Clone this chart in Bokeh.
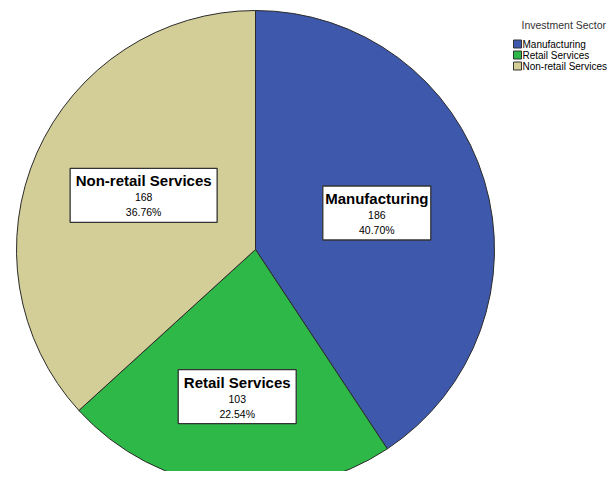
import numpy as np
from bokeh.plotting import figure
from bokeh.models import Range1d, ColumnDataSource
from bokeh.core.properties import value
from bokeh.embed import file_html
from bokeh.resources import INLINE

# ---- data ----
categories = ["Manufacturing", "Retail Services", "Non-retail Services"]
counts = [186, 103, 168]
legend_title = "Investment Sector"

# ---- style ----
colors = ["#3E58AC", "#2EB848", "#D3CE97"]
label_dist = [0.53, 0.62, 0.52]    # label distance as fraction of radius
label_turn = [0.0, 0.0, -0.035]    # small angular tweak (radians)
box_w = [108, 118, 147]
box_h = 54
FONT = "Liberation Sans"

W, H = 607, 471
TOP = 479  # data y of the top edge (data y = TOP - screen y)
p = figure(width=W, height=H, output_backend="svg", toolbar_location=None,
           x_range=Range1d(0, W), y_range=Range1d(TOP - H, TOP), min_border=0)
p.axis.visible = False
p.grid.visible = False
p.outline_line_color = None
p.background_fill_color = "white"
p.border_fill_color = "white"

cx, cy, r = 255, TOP - 249, 239

total = sum(counts)
frac = np.array(counts) / total
cum = np.concatenate([[0], np.cumsum(frac)])
start = np.pi / 2 - cum[:-1] * 2 * np.pi
end = np.pi / 2 - cum[1:] * 2 * np.pi
mid = (start + end) / 2 + np.array(label_turn)

src = ColumnDataSource(dict(start=start, end=end, color=colors, cat=categories))
p.wedge(x=cx, y=cy, radius=r, start_angle="start", end_angle="end",
        direction="clock", fill_color="color", line_color="#2a2a2a",
        line_width=1, source=src)

# labels
lx = cx + np.array(label_dist) * r * np.cos(mid)
ly = cy + np.array(label_dist) * r * np.sin(mid)
pcts = ["%.2f%%" % (f * 100) for f in frac]
lab = ColumnDataSource(dict(x=lx, y=ly, w=box_w, cat=categories,
                            cnt=[str(c) for c in counts], pct=pcts,
                            yt=ly + 14.5, yc=ly - 2, yp=ly - 17))
p.rect(x="x", y="y", width="w", height=box_h, fill_color="white",
       line_color="#333333", line_width=1.3, source=lab)
p.text(x="x", y="yt", text="cat", text_align="center", text_baseline="middle",
       text_font=value(FONT), text_font_style="bold", text_font_size="15px",
       text_color="black", source=lab)
p.text(x="x", y="yc", text="cnt", text_align="center", text_baseline="middle",
       text_font=value(FONT), text_font_size="10.5px", text_color="black", source=lab)
p.text(x="x", y="yp", text="pct", text_align="center", text_baseline="middle",
       text_font=value(FONT), text_font_size="10.5px", text_color="black", source=lab)

# legend (manual)
leg_x, leg_y0, leg_dy = 517, TOP - 43.5, 11
ly_items = [leg_y0 - i * leg_dy for i in range(len(categories))]
p.text(x=[521], y=[TOP - 24], text=[legend_title], text_align="left",
       text_baseline="middle", text_font=value(FONT), text_font_size="10.5px",
       text_color="#333333")
p.rect(x=[leg_x] * len(categories), y=ly_items, width=8, height=8,
       fill_color=colors, line_color="#333333", line_width=1)
p.text(x=[leg_x + 5] * len(categories), y=ly_items, text=categories,
       text_align="left", text_baseline="middle", text_font=value(FONT),
       text_font_size="10px", text_color="black")

open("out.html", "w").write(file_html(p, INLINE))
